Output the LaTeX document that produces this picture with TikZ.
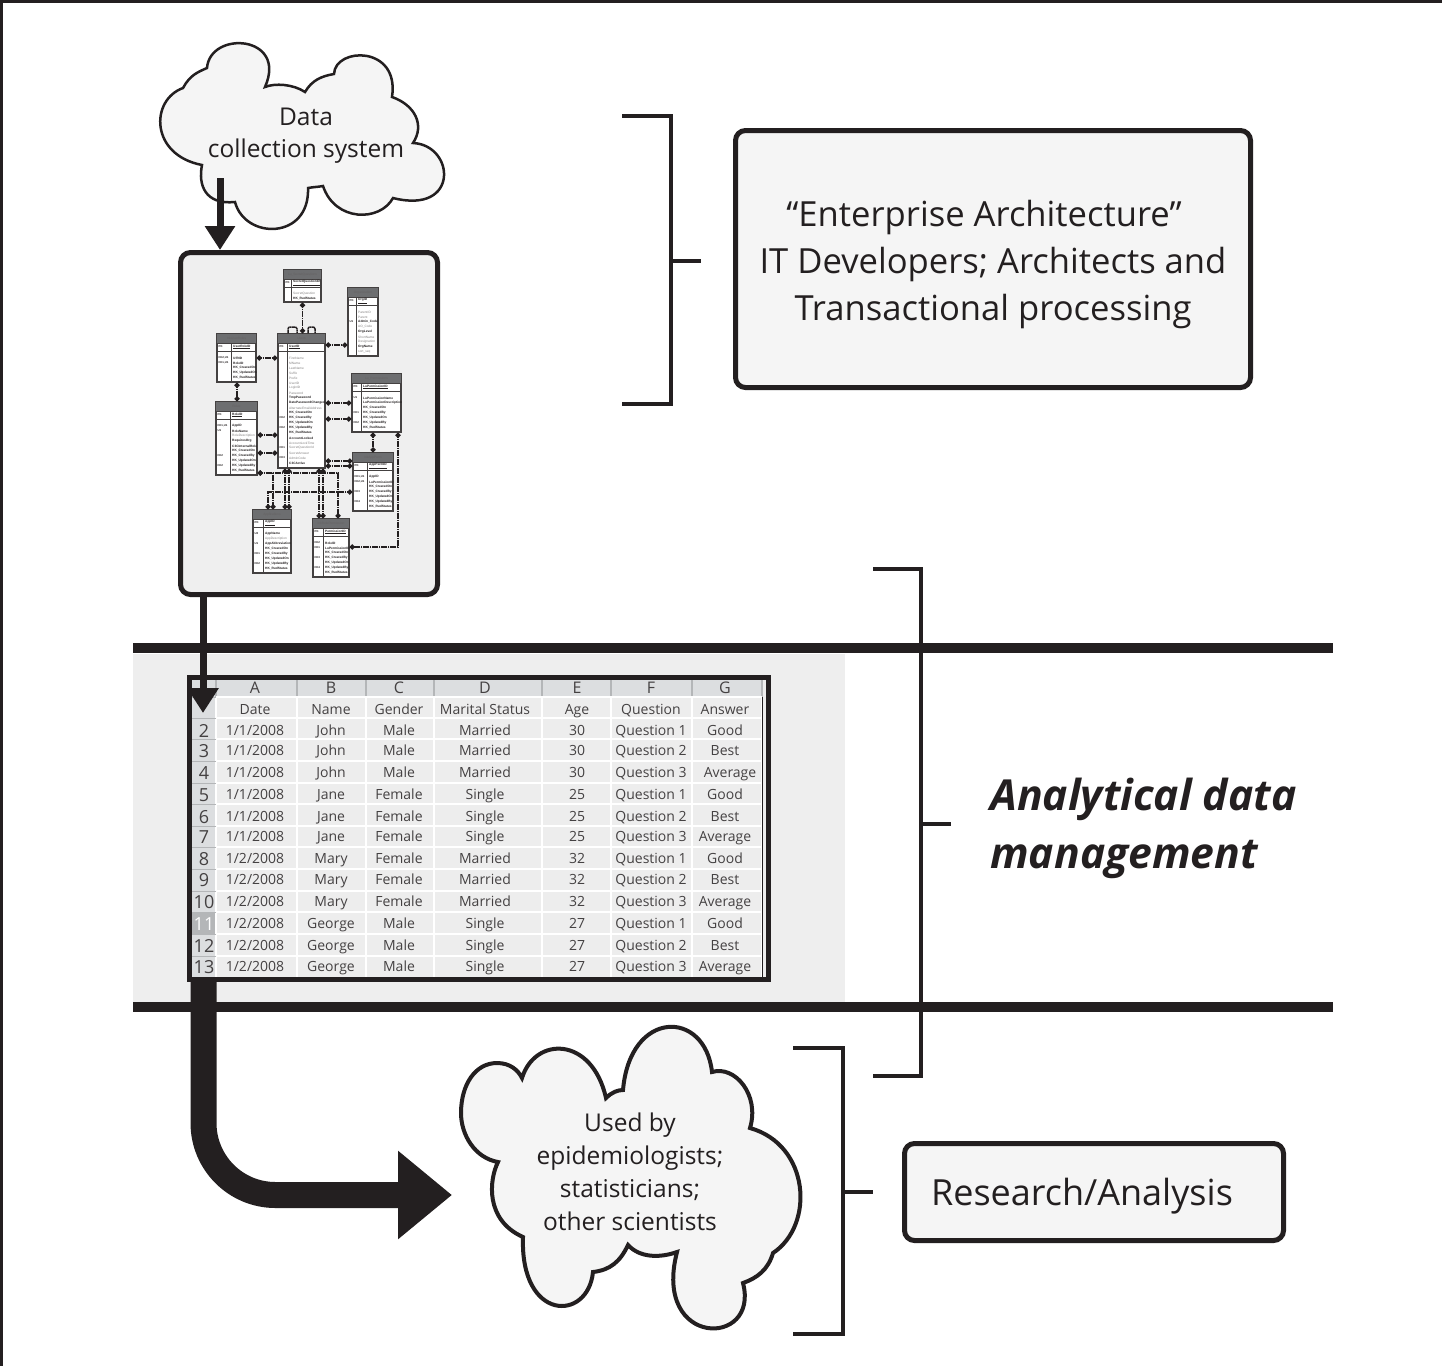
\documentclass[tikz,border=0pt]{standalone}
\usepackage{fontspec}
\setmainfont{Open Sans}
\newfontfamily\erfont{Liberation Sans}
\usetikzlibrary{arrows.meta}

\definecolor{inkblack}{HTML}{231F20}
\definecolor{boxfill}{HTML}{F5F5F5}
\definecolor{schemafill}{HTML}{EFEFEF}
\definecolor{panelfill}{HTML}{EEEEEE}
\definecolor{sheetfill}{HTML}{EDEDED}
\definecolor{sheethead}{HTML}{DCDEE0}
\definecolor{sheetline}{HTML}{B4B6B8}
\definecolor{erhead}{HTML}{6D6E70}

\tikzset{
  bracket/.style={draw=inkblack,line width=4pt},
  bandline/.style={draw=inkblack,line width=10pt},
  roundbox/.style={draw=inkblack,fill=boxfill,line width=5pt,rounded corners=10pt,inner sep=0pt,text=inkblack},
  cloudshape/.style={draw=inkblack,fill=boxfill,line join=miter},
  cloudtext/.style={text=inkblack,align=center,font=\fontsize{24.5}{33}\selectfont},
  cell/.style={anchor=base,text=inkblack!85,font=\fontsize{14}{18}\selectfont,inner sep=0pt},
  rownum/.style={anchor=base,text=inkblack!85,font=\fontsize{18}{22}\selectfont,inner sep=0pt},
  ertable/.style={draw=inkblack!85,fill=white,line width=1.4pt,inner sep=0pt},
  erline/.style={draw=inkblack!85,line width=1pt},
  ertitle/.style={text=inkblack!70,font=\erfont\fontsize{3.2}{4}\selectfont,inner sep=0pt},
  errow/.style={anchor=west,text=inkblack,font=\erfont\bfseries\fontsize{3.2}{4}\selectfont,inner sep=0pt},
  erlink/.style={draw=inkblack,line width=1.5pt,dash pattern=on 1.4pt off .4pt,{Circle[length=5pt]}-{Circle[length=5pt]}},
  erloop/.style={draw=inkblack,line width=1.5pt,dash pattern=on 1.4pt off .4pt,rounded corners=2pt},
}

\newcommand{\gt}[1]{{\mdseries\color{inkblack!55}#1}}
\newcommand{\da}{1/1/2008}
\newcommand{\db}{1/2/2008}

% id, x1, y1, x2, y2, key column, title, primary key, rows
\newcommand{\ertab}[9]{
  \node[ertable,minimum width={(#4-#2)*1pt},minimum height={(#5-#3)*1pt}] (#1) at ({(#2+#4)/2},{(#3+#5)/2}) {};
  \fill[erhead] (#2,#3) rectangle (#4,#3+9);
  \node[ertitle] (#1Title) at ({(#2+#4)/2},#3+4.5) {#7};
  \draw[erline] (#2,#3+9) -- (#4,#3+9);
  \draw[erline] (#2,#3+17) -- (#4,#3+17);
  \draw[erline] (#6,#3+9) -- (#6,#5);
  \node[errow,font=\erfont\bfseries\fontsize{2.8}{4}\selectfont] (#1Pk) at (#2+1.5,#3+13) {PK};
  \node[errow] (#1PkName) at (#6+2,#3+13) {\underline{#8}};
  \foreach \k/\t [count=\i] in {#9} {
    \node[errow,font=\erfont\bfseries\fontsize{2.8}{4}\selectfont] (#1Key\i) at (#2+1.5,{#3+19+\i*5}) {\k};
    \node[errow] (#1Row\i) at (#6+2,{#3+19+\i*5}) {\t};
  }
}

\begin{document}
\begin{tikzpicture}[x=1pt,y=-1pt]
  \useasboundingbox (0,0) rectangle (1442,1366);
  \draw [draw=inkblack,line width=3pt] (1,1366) -- (1,1) -- (1442,1);% Draw outer edge

  % analytical band
  \fill [panelfill] (133,654) rectangle (845,1002);
  \coordinate (BandTopL) at (133,648);
  \coordinate (BandTopR) at (1333,648);
  \coordinate (BandLowL) at (133,1007);
  \coordinate (BandLowR) at (1333,1007);
  \draw [bandline] (BandTopL) -- (BandTopR);
  \draw [bandline] (BandLowL) -- (BandLowR);

  % top cloud
  \draw [cloudshape,line width=2.5pt] (265,87)
    .. controls (275,83) and (293,84) .. (305,92)
    .. controls (312,80) and (322,76) .. (334,74)
    .. controls (335,47) and (400,45) .. (392,97)
    .. controls (415,105) and (425,125) .. (413,143)
    .. controls (455,145) and (460,215) .. (393,198)
    .. controls (380,222) and (335,222) .. (323,186)
    .. controls (318,187) and (313,187) .. (308,188)
    .. controls (310,240) and (245,240) .. (235,202)
    .. controls (205,205) and (198,185) .. (202,165)
    .. controls (150,155) and (150,100) .. (183,88)
    .. controls (190,75) and (198,72) .. (207,68)
    .. controls (210,30) and (288,35) .. (265,87) -- cycle;
  \node [cloudtext] (DataCloud) at (306,136) {Data\\[-1pt]collection system};

  % schema box
  \node [roundbox,fill=schemafill,minimum width=257pt,minimum height=342pt] (SchemaBox) at (309,423.5) {};
  \coordinate (CloudArrow) at (220,178);
  \draw [draw=inkblack,line width=7pt,-{Triangle[length=24pt,width=29pt]}] (CloudArrow) -- (CloudArrow |- SchemaBox.north);

  \ertab{SecretQ}{284}{270}{321}{302}{291}{Lu\_SecretQuestions}{SecretQuestionID}{/\gt{SecretQuestion},/HK\_RudStatus}
  \ertab{Organization}{348}{288}{378}{356}{356}{Organization}{OrgID}{/\gt{ParentID},/\gt{Parent},U1/Admin\_Code,/\gt{AO\_Code},/OrgLevel,/\gt{ShortName},/\gt{Designation},/OrgName,/\gt{sort\_seq}}
  \ertab{UserRoles}{217}{334}{256}{382}{231}{InkUserRoles}{UserRoleID}{FK2{,}U1/UfRID,FK1{,}U1/RoleID,/HK\_CreatedOn,/HK\_UpdatedOn,/HK\_RudStatus}
  \ertab{Users}{278}{334}{325}{468}{287}{Users}{UserID}{/\gt{FirstName},/\gt{MName},/\gt{LastName},/\gt{Suffix},/\gt{Prefix},/\gt{UserID},/\gt{LoginID},/\gt{Password},/TmpPassword,/DatePasswordChanged,/\gt{AlternateEmailAddress},/HK\_CreatedOn,FK2/HK\_CreatedBy,/HK\_UpdatedOn,FK2/HK\_UpdatedBy,/HK\_RudStatus,/AccountLocked,/\gt{AccountLockTime},FK1/\gt{SecretQuestionId},/\gt{SecretAnswer},FK3/\gt{AdminCode},/C3CActive}
  \ertab{Roles}{216}{402}{257}{475}{230}{Roles}{RoleID}{FK1{,}U1/AppID,U1/RoleName,/\gt{RoleDescription},/RequiresOrg,/C3CInternalRole,/HK\_CreatedOn,FK2/HK\_CreatedBy,/HK\_UpdatedOn,FK2/HK\_UpdatedBy,/HK\_RudStatus}
  \ertab{LuPermissions}{352}{374}{401}{432}{361}{Lu\_Permissions}{LuPermissionID}{U1/LuPermissionName,/LuPermissionDescription,/HK\_CreatedOn,FK1/HK\_CreatedBy,/HK\_UpdatedOn,FK2/HK\_UpdatedBy,/HK\_RudStatus}
  \ertab{AppPerm}{353}{453}{393}{511}{367}{InkAppPerm}{AppPermID}{FK1{,}U1/AppID,FK2{,}U1/LuPermissionID,/HK\_CreatedOn,FK3/HK\_CreatedBy,/HK\_UpdatedOn,FK4/HK\_UpdatedBy,/HK\_RudStatus}
  \ertab{Applications}{253}{510}{291}{573}{263}{Applications}{AppID}{U2/AppName,/\gt{AppDescription},U1/AppAbbreviation,/HK\_CreatedOn,FK1/HK\_CreatedBy,/HK\_UpdatedOn,FK2/HK\_UpdatedBy,/HK\_RudStatus}
  \ertab{RolePerm}{313}{519}{349}{577}{323}{InkRolePermission}{PermissionID}{FK2/RoleID,FK1/LuPermissionID,/HK\_CreatedOn,FK3/HK\_CreatedBy,/HK\_UpdatedOn,FK4/HK\_UpdatedBy,/HK\_RudStatus}

  \draw [erlink] (SecretQ.south) -- (Users.north -| SecretQ.south);
  \draw [erloop] (Users.north -| 288,0) |- (297,327) -- (Users.north -| 297,0);
  \draw [erloop] (Users.north -| 308,0) |- (315,327) -- (Users.north -| 315,0);
  \draw [erlink] (Users.east |- 0,345) -- (Organization.west |- 0,345);
  \draw [erlink] (UserRoles.east |- 0,358) -- (Users.west |- 0,358);
  \draw [erlink] (UserRoles.south -| 237,0) -- (Roles.north -| 237,0);
  \draw [erlink] (Users.east |- 0,403) -- (LuPermissions.west |- 0,403);
  \draw [erlink] (Users.east |- 0,419) -- (LuPermissions.west |- 0,419);
  \draw [erlink] (Roles.east |- 0,435) -- (Users.west |- 0,435);
  \draw [erlink] (Roles.east |- 0,453) -- (Users.west |- 0,453);
  \draw [erlink] (Users.east |- 0,461) -- (AppPerm.west |- 0,461);
  \draw [erlink] (Users.east |- 0,466) -- (AppPerm.west |- 0,466);
  \draw [erlink] (LuPermissions.south -| 373,0) -- (AppPerm.north -| 373,0);
  \draw [erlink] (LuPermissions.south -| 398,0) |- (RolePerm.east |- 0,547);
  \draw [erlink] (Roles.east |- 0,473) -| (RolePerm.north -| 338,0);
  \draw [erlink] (Roles.east |- 0,473) -| (Applications.north -| 273,0);
  \draw [erlink] (AppPerm.west |- 0,492) -| (Applications.north -| 268,0);
  \draw [erlink] (Users.south -| 285,0) -- (Applications.north -| 285,0);
  \draw [erlink] (Users.south -| 289,0) -- (Applications.north -| 289,0);
  \draw [erlink] (Users.south -| 319,0) -- (RolePerm.north -| 319,0);
  \draw [erlink] (Users.south -| 323,0) -- (RolePerm.north -| 323,0);

  % spreadsheet
  \fill [sheetfill] (190,678) rectangle (762,977);
  \fill [sheethead] (190,678) rectangle (762,697);% Column heads
  \fill [sheethead] (190,678) rectangle (216,977);% Row heads
  \fill [sheetline] (192,912) rectangle (216,934);
  \foreach \x in {216,297,366,434,542,611,692,762} {
    \draw [sheetline,line width=1.5pt] (\x,680) -- (\x,697);
    \draw [white,line width=1.5pt] (\x,697) -- (\x,977);
  }
  \foreach \y in {697,718,739,761,783,804,826,847,869,891,912,934,956} {
    \draw [white,line width=1.5pt] (216,\y) -- (762,\y);
    \draw [sheetline,line width=1pt] (192,\y) -- (216,\y);
  }
  \draw [inkblack,line width=1pt] (762.5,697) -- (762.5,977);
  \foreach \x/\h/\name in {255/A/ColA,331/B/ColB,399/C/ColC,485/D/ColD,577/E/ColE,651/F/ColF,725/G/ColG} {
    \node [cell,font=\fontsize{16}{20}\selectfont] (\name) at (\x,693) {\h};
  }
  \node [cell] (HeadDate) at (255,714) {Date};
  \node [cell] (HeadName) at (331,714) {Name};
  \node [cell] (HeadGender) at (399,714) {Gender};
  \node [cell] (HeadStatus) at (485,714) {Marital Status};
  \node [cell] (HeadAge) at (577,714) {Age};
  \node [cell] (HeadQuestion) at (651,714) {Question};
  \node [cell] (HeadAnswer) at (725,714) {Answer};
  \foreach \y/\n/\d/\who/\g/\m/\a/\q/\r/\ax in {
    730/2/\da/John/Male/Married/30/1/Good/725,
    750/3/\da/John/Male/Married/30/2/Best/725,
    772/4/\da/John/Male/Married/30/3/Average/730,
    794/5/\da/Jane/Female/Single/25/1/Good/725,
    816/6/\da/Jane/Female/Single/25/2/Best/725,
    836/7/\da/Jane/Female/Single/25/3/Average/725,
    858/8/\db/Mary/Female/Married/32/1/Good/725,
    879/9/\db/Mary/Female/Married/32/2/Best/725,
    901/10/\db/Mary/Female/Married/32/3/Average/725,
    923/11/\db/George/Male/Single/27/1/Good/725,
    945/12/\db/George/Male/Single/27/2/Best/725,
    966/13/\db/George/Male/Single/27/3/Average/725} {
    \node [rownum] (Num\n) at (204,\y+7) {\ifnum\n=11 \textcolor{white}{\n}\else\n\fi};
    \node [cell] (Date\n) at (255,\y+5) {\d};
    \node [cell] (Name\n) at (331,\y+5) {\who};
    \node [cell] (Gender\n) at (399,\y+5) {\g};
    \node [cell] (Status\n) at (485,\y+5) {\m};
    \node [cell] (Age\n) at (577,\y+5) {\a};
    \node [cell] (Question\n) at (651,\y+5) {Question \q};
    \node [cell] (Answer\n) at (\ax,\y+5) {\r};
  }
  \node [draw=inkblack,line width=5pt,inner sep=0pt,minimum width=579pt,minimum height=301.5pt] (Sheet) at (479,828.25) {};

  % arrows through the band
  \coordinate (SheetArrow) at (203,0);
  \coordinate (SheetTip) at (203,713);
  \draw [draw=inkblack,line width=7pt,-{Triangle[length=25pt,width=30pt]}] (SchemaBox.south -| SheetArrow) -- (SheetTip);
  \coordinate (BigBend) at (203.5,1195);
  \coordinate (BigTip) at (452,1195);
  \draw [draw=inkblack,line width=26pt,rounded corners=72pt,-{Triangle[length=54pt,width=85pt]}] (Sheet.south -| BigBend) -- (BigBend) -- (BigTip);

  % lower cloud
  \draw [cloudshape,line width=4pt] (522,1078)
    .. controls (535,1036) and (592,1036) .. (606,1098)
    .. controls (612,1092) and (618,1090) .. (623,1090)
    .. controls (630,1009) and (705,1009) .. (712,1072)
    .. controls (735,1065) and (760,1095) .. (750,1128)
    .. controls (810,1145) and (815,1225) .. (773,1253)
    .. controls (768,1270) and (757,1278) .. (743,1283)
    .. controls (760,1348) and (652,1348) .. (677,1252)
    .. controls (660,1258) and (640,1258) .. (628,1245)
    .. controls (620,1262) and (610,1270) .. (593,1272)
    .. controls (588,1322) and (520,1322) .. (523,1237)
    .. controls (485,1220) and (489,1180) .. (498,1162)
    .. controls (475,1158) and (461,1135) .. (461,1113)
    .. controls (461,1085) and (475,1063) .. (497,1063)
    .. controls (510,1063) and (518,1070) .. (522,1078) -- cycle;
  \node [cloudtext] (UsedCloud) at (630,1172) {Used by\\epidemiologists;\\statisticians;\\other scientists};

  % right side boxes
  \node [roundbox,minimum width=515pt,minimum height=257pt] (EnterpriseBox) at (993,259) {};
  \node [text=inkblack,align=center,inner sep=0pt,font=\fontsize{34.6}{47}\selectfont] (EnterpriseText) at (993,265) {“Enterprise Architecture”\hspace*{18pt}\\IT Developers; Architects and\\Transactional processing};
  \node [text=inkblack,align=left,anchor=west,inner sep=0pt,font=\bfseries\itshape\fontsize{42.7}{58}\selectfont] (AnalyticalText) at (990,828) {Analytical data\\management};
  \node [roundbox,minimum width=379pt,minimum height=97pt] (ResearchBox) at (1094,1192) {};
  \node [text=inkblack,inner sep=0pt,font=\fontsize{36}{46}\selectfont] (ResearchText) at (1082,1196) {Research/Analysis};

  % brackets
  \draw [bracket] (622,116) -- (671,116) -- (671,404) -- (622,404);
  \draw [bracket] (671,261) -- (701,261);
  \draw [bracket] (873,569) -- (921,569) -- (921,1076) -- (873,1076);
  \draw [bracket] (921,824) -- (951,824);
  \draw [bracket] (793,1048) -- (843,1048) -- (843,1334) -- (793,1334);
  \draw [bracket] (843,1192) -- (873,1192);
\end{tikzpicture}
\end{document}
